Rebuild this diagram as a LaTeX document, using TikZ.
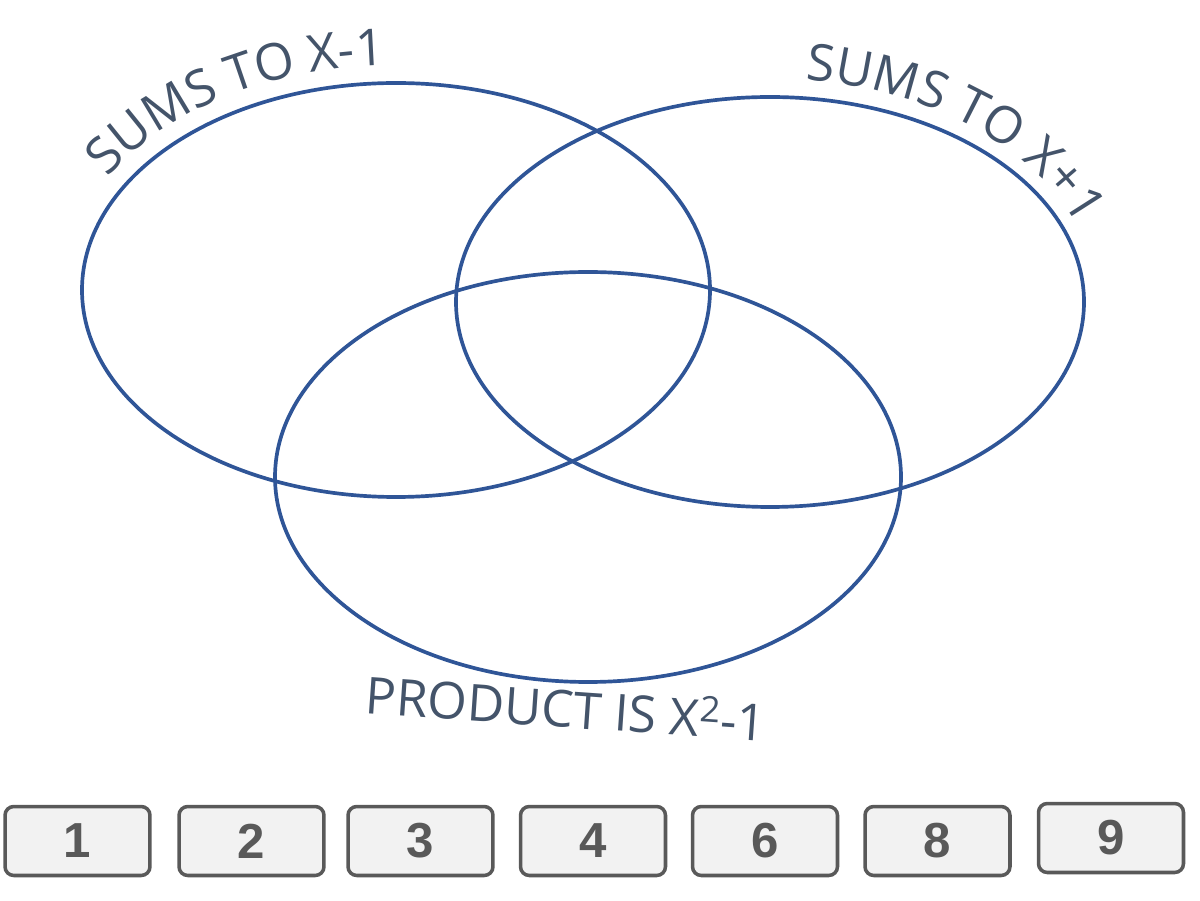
\documentclass[tikz,border=0pt]{standalone}
\usepackage{fontspec}
\setmainfont{Open Sans}
\newfontfamily\numfont{Liberation Sans}
\usetikzlibrary{decorations.text}
\definecolor{ring}{HTML}{2F5597}
\definecolor{lab}{HTML}{44546A}
\definecolor{boxg}{HTML}{595959}
\definecolor{boxf}{HTML}{F2F2F2}
\begin{document}
\begin{tikzpicture}[x=0.02cm,y=0.02cm,
  ringline/.style={draw=ring,line width=2.1pt},
  numbox/.style={draw=boxg,fill=boxf,line width=2pt,rounded corners=5pt,minimum width=2.9cm,minimum height=1.38cm,inner sep=0pt,font=\numfont\bfseries\fontsize{28}{28}\selectfont,text=boxg},
  curvelab/.style={decorate,decoration={text along path,text align=center,text={|\fontsize{29}{29}\selectfont\color{lab}|#1}}}]
\useasboundingbox (0,0) rectangle (1200,-901);
\draw[ringline] (396,-290) ellipse [x radius=314,y radius=207];
\draw[ringline] (770,-302) ellipse [x radius=314,y radius=205];
\draw[ringline] (588,-477) ellipse [x radius=313,y radius=205];
\path[curvelab={SUMS TO X-1}] (108,-177.5) arc[start angle=150,end angle=92,x radius=333,y radius=225];
\path[curvelab={SUMS TO X+1}] (781.6,-78.1) arc[start angle=87,end angle=14,x radius=333,y radius=224];
\node[rotate=-4,text=lab,font=\fontsize{29}{29}\selectfont] (prod) at (566,-707) {PRODUCT IS X\textsuperscript{2}-1};
\node[numbox] (b1) at (77.5,-841) {1};
\node[numbox] (b2) at (251.5,-841) {2};
\node[numbox] (b3) at (420.5,-841) {3};
\node[numbox] (b4) at (593,-841) {4};
\node[numbox] (b6) at (765,-841) {6};
\node[numbox] (b8) at (937.5,-841) {8};
\node[numbox] (b9) at (1111,-838) {9};
\end{tikzpicture}
\end{document}
